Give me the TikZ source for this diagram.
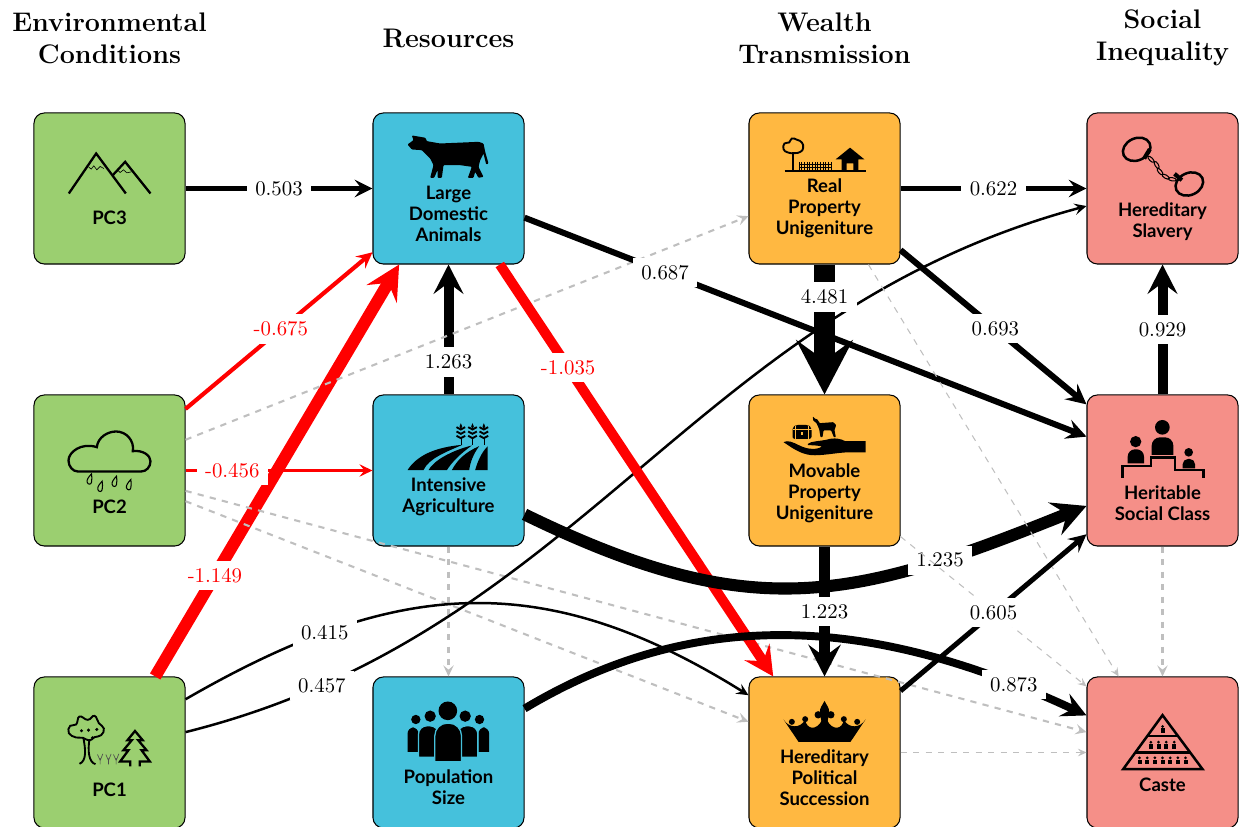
\documentclass[tikz,border=0pt]{standalone}
\usepackage{fontspec}
\setsansfont{Lato}
\usetikzlibrary{arrows.meta}

\definecolor{envgreen}{RGB}{155,207,112}
\definecolor{resblue}{RGB}{69,193,220}
\definecolor{wealthorange}{RGB}{255,184,65}
\definecolor{ineqpink}{RGB}{245,143,136}

\tikzset{
  basebox/.style={draw=black,line width=0.5pt,rounded corners=5pt,minimum size=72.5pt,inner sep=0pt},
  envbox/.style={basebox,fill=envgreen},
  resbox/.style={basebox,fill=resblue},
  wealthbox/.style={basebox,fill=wealthorange},
  ineqbox/.style={basebox,fill=ineqpink},
  boxtext/.style={font=\sffamily\bfseries\fontsize{8.9}{10.2}\selectfont,align=center,inner sep=0pt},
  head/.style={font=\fontsize{12.9}{15.4}\selectfont\bfseries,align=center,inner sep=0pt,text depth=0pt},
  coef/.style={fill=white,text=black,inner xsep=4pt,inner ysep=3.6pt,font=\fontsize{10}{12}\selectfont},
  redcoef/.style={coef,text=red},
  faint/.style={draw=gray!50,line width=0.5pt,dashed},
  medfaint/.style={draw=gray!50,line width=1pt,dashed},
  every pic/.style={scale=1/3,yscale=-1},
  mountains/.pic={
    \draw[line width=1.1pt] (-122,15) -- (-40,-105) -- (49,15);
    \draw[line width=1.1pt] (10,-40) -- (47,-80) -- (123,15);
    \draw[line width=0.3pt] (-63,-65) -- (-55,-58) -- (-47,-68) -- (-38,-56) -- (-28,-66) -- (-17,-60);
    \draw[line width=0.3pt] (24,-56) -- (32,-48) -- (42,-56) -- (52,-47) -- (66,-50);
  },
  raincloud/.pic={
    \draw[line width=1.1pt] (-95,3) .. controls (-110,3) and (-123,-12) .. (-123,-30)
      .. controls (-123,-55) and (-85,-85) .. (-38,-70)
      .. controls (-35,-100) and (-5,-117) .. (20,-117)
      .. controls (50,-117) and (75,-90) .. (70,-58)
      .. controls (100,-62) and (123,-45) .. (123,-28)
      .. controls (123,-10) and (110,3) .. (95,3) -- cycle;
    \foreach \dropx/\dropy in {-60/27,-28/49,15/34,58/44}
      \draw[line width=0.5pt,shift={(\dropx,\dropy)}] (6,-17) .. controls (-2,-8) and (-9,0) .. (-7,8)
        .. controls (-5,16) and (5,16) .. (6,8) .. controls (8,0) and (7,-8) .. (6,-17) -- cycle;
  },
  trees/.pic={
    \draw[line width=0.9pt] plot[smooth cycle,tension=0.8] coordinates {(-100,-45) (-122,-58) (-118,-80) (-100,-84) (-90,-108)
      (-65,-98) (-45,-110) (-32,-88) (-17,-72) (-25,-52) (-45,-46) (-60,-36) (-80,-44)};
    \foreach \dotx/\doty in {-84/-65,-63/-67,-38/-69,-51/-44}
      \fill (\dotx,\doty) circle (5);
    \draw[line width=0.9pt] (-78,-42) .. controls (-72,-10) and (-68,25) .. (-90,34);
    \draw[line width=0.9pt] (-60,-40) .. controls (-66,-5) and (-62,30) .. (-42,35);
    \foreach \grassx in {-28,-3,20}
      \draw[line width=0.3pt,black!70] (\grassx,36) -- (\grassx,18) (\grassx,24) -- (\grassx-8,6) (\grassx,24) -- (\grassx+8,4);
    \draw[line width=1.1pt] (62,42) -- (62,27) -- (32,27) -- (57,-7) -- (42,-7) -- (67,-37) -- (54,-37) -- (76.5,-64.5)
      -- (99.5,-37) -- (86,-37) -- (111,-7) -- (96,-7) -- (121,27) -- (91,27) -- (91,42);
  },
  cow/.pic={
    \fill[rounded corners=0.4pt] (-123,-132) -- (-105,-145) -- (-110,-159) -- (-85,-155) -- (-69,-152) -- (-65,-142) -- (-25,-135)
      -- (45,-138) -- (90,-140) -- (105,-135) -- (110,-110) -- (120,-75) -- (113,-72) -- (105,-105) -- (95,-85) -- (90,-65)
      -- (105,-35) -- (90,-32) -- (80,-50) -- (75,-32) -- (58,-32) -- (70,-65) -- (35,-70) -- (-15,-70) -- (-20,-32) -- (-33,-32)
      -- (-33,-55) -- (-43,-32) -- (-55,-32) -- (-45,-70) -- (-55,-90) -- (-80,-115) -- (-110,-117) -- cycle;
  },
  field/.pic={
    \fill (-123,-1) .. controls (-95,-45) and (-40,-70) .. (42,-77) .. controls (-10,-55) and (-60,-35) .. (-75,-1) -- cycle;
    \fill (-60,-1) .. controls (-45,-30) and (10,-60) .. (70,-75) .. controls (35,-50) and (10,-25) .. (-5,-1) -- cycle;
    \fill (10,-1) .. controls (25,-30) and (50,-55) .. (92,-73) .. controls (75,-50) and (65,-25) .. (62,-1) -- cycle;
    \fill (80,-1) .. controls (88,-30) and (100,-55) .. (117,-72) -- (117,-1) -- cycle;
    \foreach \earx in {37,72,106}{
      \draw[line width=0.25pt] (\earx,-77) -- (\earx,-100);
      \foreach \eary in {-97,-110,-123}
        \draw[line width=0.9pt] (\earx-13,\eary-7) -- (\earx,\eary) -- (\earx+13,\eary-7);
      \fill (\earx,-142) -- (\earx+4,-132) -- (\earx,-124) -- (\earx-4,-132) -- cycle;
    }
  },
  crowd/.pic={
    \fill (-98,-99) circle (14) (93,-99) circle (14);
    \fill (-123,-2) [rounded corners=3pt] -- (-123,-75) -- (-90,-75) [sharp corners] -- (-90,-2) -- cycle;
    \fill (122,-2) [rounded corners=3pt] -- (122,-75) -- (90,-75) [sharp corners] -- (90,-2) -- cycle;
    \fill (-55,-109) circle (17) (50,-109) circle (17);
    \filldraw[draw=resblue,line width=0.6pt] (-90,14) [rounded corners=4pt] -- (-90,-80) -- (-30,-80) [sharp corners] -- (-30,14) -- cycle;
    \filldraw[draw=resblue,line width=0.6pt] (88,14) [rounded corners=4pt] -- (88,-80) -- (28,-80) [sharp corners] -- (28,14) -- cycle;
    \fill (-2,-125) circle (28);
    \filldraw[draw=resblue,line width=0.6pt] (-41,28) [rounded corners=6pt] -- (-41,-88) -- (39,-88) [sharp corners] -- (39,28) -- cycle;
  },
  realestate/.pic={
    \draw[line width=0.9pt] plot[smooth cycle,tension=0.8] coordinates {(-110,-108) (-123,-118) (-120,-135) (-106,-138) (-98,-150)
      (-82,-146) (-68,-138) (-64,-122) (-72,-110) (-90,-106)};
    \draw[line width=1pt] (-93.5,-105) -- (-93.5,-52);
    \draw[line width=1.2pt] (-120,-52) -- (123,-52);
    \foreach \fencex in {-76,-68,...,20}
      \draw[line width=0.35pt] (\fencex,-80) -- (\fencex,-54);
    \draw[line width=0.35pt] (-76,-72) -- (20,-72) (-76,-63) -- (20,-63);
    \fill (76.5,-122.5) -- (119.5,-87.5) -- (101.5,-87.5) -- (101.5,-52) -- (86.5,-52) -- (86.5,-75) -- (66.5,-75) -- (66.5,-52)
      -- (51.5,-52) -- (51.5,-87.5) -- (33.5,-87.5) -- cycle;
  },
  handgift/.pic={
    \fill (-123,-85) .. controls (-100,-70) and (-75,-50) .. (-40,-46) .. controls (-10,-44) and (30,-52) .. (61,-54) -- (123,-54)
      -- (123,-88) -- (62,-88) .. controls (50,-95) and (30,-100) .. (5,-92) .. controls (-15,-88) and (-40,-88) .. (-50,-80)
      -- (-50,-76) .. controls (-30,-76) and (-15,-74) .. (-8,-72) .. controls (-20,-62) and (-50,-62) .. (-75,-75)
      .. controls (-95,-85) and (-110,-92) .. (-123,-85) -- cycle;
    \fill[rounded corners=1pt] (-96,-95) -- (-96,-130) -- (-85,-137) -- (-50,-137) -- (-39,-130) -- (-39,-95) -- cycle;
    \draw[wealthorange,line width=0.35pt] (-96,-124) -- (-39,-124) (-86,-132) -- (-86,-95) (-49,-132) -- (-49,-95);
    \fill[wealthorange] (-70,-116) rectangle (-65,-106);
    \fill[rounded corners=0.3pt] (-35,-162) -- (-28,-155) -- (-22,-154) -- (-14,-142) -- (26,-145) -- (35,-136) -- (30,-121) -- (34,-100)
      -- (28,-100) -- (20,-120) -- (-3,-120) -- (-6,-100) -- (-12,-100) -- (-16,-124) -- (-24,-142) -- (-34,-150) -- cycle;
  },
  shackles/.pic={
    \draw[line width=1.2pt,rotate around={-25:(-77.5,-117.5)}] (-77.5,-117.5) ellipse (43 and 33);
    \draw[line width=1.2pt,rotate around={-25:(80.5,-13.5)}] (80.5,-13.5) ellipse (43 and 33);
    \draw[line width=2pt] (-55,-90) -- (-38,-118);
    \draw[line width=2pt] (36,-44) -- (58,-25);
    \foreach \linkx/\linky/\linkr in {-34.5/-87.5/45,-17.5/-70.5/60,-7.5/-50.5/50,9.5/-35.5/30,29.5/-27.5/10}
      \draw[line width=0.5pt,rotate around={\linkr:(\linkx,\linky)}] (\linkx,\linky) ellipse (12 and 5);
  },
  podium/.pic={
    \fill (-0.5,-129.5) circle (22);
    \fill (-32.5,-46.5) [rounded corners=4pt] -- (-32.5,-99.5) -- (32.5,-99.5) [sharp corners] -- (32.5,-46.5) -- cycle;
    \fill (-80.5,-86.5) circle (17);
    \fill (-104.5,-21.5) [rounded corners=3.5pt] -- (-104.5,-63.5) -- (-55.5,-63.5) [sharp corners] -- (-55.5,-21.5) -- cycle;
    \fill (78.5,-54.5) circle (13);
    \fill (60.5,-6.5) [rounded corners=2.5pt] -- (60.5,-34.5) -- (97.5,-34.5) [sharp corners] -- (97.5,-6.5) -- cycle;
    \draw[line width=1.2pt] (-119.5,21.5) -- (-119.5,-13.5) -- (-34.5,-13.5) -- (-34.5,-38.5) -- (37.5,-38.5) -- (37.5,-1.5)
      -- (122.5,-1.5) -- (122.5,21.5);
  },
  crown/.pic={
    \fill (-78,-32) -- (-123,-99) .. controls (-108,-74) and (-74,-70) .. (-58,-98) .. controls (-54,-70) and (-24,-62) .. (-6,-100)
      -- (6,-100) .. controls (24,-62) and (54,-70) .. (58,-98) .. controls (74,-70) and (108,-74) .. (123,-99) -- (78,-32) -- cycle;
    \fill (-98,-92) circle (9) (98,-92) circle (9) (-58,-100) circle (9) (58,-100) circle (9);
    \fill (0,-155) .. controls (6,-142) and (14,-135) .. (14,-122) -- (8,-85) -- (-8,-85) -- (-14,-122) .. controls (-14,-135) and (-6,-142) .. (0,-155) -- cycle;
    \fill (-19,-113) circle (11) (19,-113) circle (11);
  },
  pyramid/.pic={
    \draw[line width=1.2pt,line join=miter] (0,-112) -- (120,50) -- (-118,50) -- cycle;
    \draw[line width=1.2pt] (-45,-49.5) -- (45,-49.5) (-81,-0.5) -- (82,-0.5);
    \foreach \persx/\persy in {0/-69,-35/-22,-12/-22,11/-22,35/-22,-69/25,-46/25,-23/25,0/25,23/25,46/25,69/25}{
      \fill (\persx,\persy-9) circle (4.5);
      \fill (\persx-6,\persy-3) rectangle (\persx+6,\persy+11);
    }
  },
}

\begin{document}
\begin{tikzpicture}[x=0.48pt,y=0.48pt,>={Stealth[length=3pt 2.3 0,width=2.5pt 2.45 0,inset=1.2pt 0.85 0]},node distance=135.36pt]

\useasboundingbox (0,0) rectangle (1241,827);

% boxes
\node[envbox]    (PCthree) at (109.5,638.5)                          {};
\node[envbox]    (PCtwo)   [below of=PCthree]                       {};
\node[envbox]    (PCone)   [below of=PCtwo]                         {};
\node[resbox]    (LDA)     [right of=PCthree,node distance=162.72pt] {};
\node[resbox]    (IA)      [right of=PCtwo,node distance=162.72pt]   {};
\node[resbox]    (PS)      [right of=PCone,node distance=162.72pt]   {};
\node[wealthbox] (RPU)     [right of=LDA,node distance=180.48pt]     {};
\node[wealthbox] (MPU)     [right of=IA,node distance=180.48pt]      {};
\node[wealthbox] (HPS)     [right of=PS,node distance=180.48pt]      {};
\node[ineqbox]   (HSL)     [right of=RPU,node distance=162.24pt]     {};
\node[ineqbox]   (HSC)     [right of=MPU,node distance=162.24pt]     {};
\node[ineqbox]   (CST)     [right of=HPS,node distance=162.24pt]     {};

% coefficients
\path[->]
      (PCone.59)   edge [red,line width=5.8pt]   node [redcoef,pos=0.245] {-1.149} (LDA.237.8)
      (PCthree)    edge [line width=2.4pt]       node [coef] {0.503} (LDA)
      (PCtwo.39.6) edge [red,line width=2pt]     node [redcoef,pos=0.51] {-0.675} (LDA.220)
      (IA)         edge [line width=4.8pt]       node [coef,pos=0.25] {1.263} (LDA)
      (PCtwo)      edge [red,line width=1.4pt]   node [redcoef,pos=0.25] {-0.456} (IA)
      (PCtwo.22)   edge [medfaint]               (RPU.200)
      (PCtwo.345.5) edge [medfaint]              (CST.165)
      (PCtwo.338.7) edge [medfaint]              (HPS.158)
      (IA)         edge [medfaint]               (PS)
      (PCone.35.3) edge [out=30,in=148,looseness=1.1,line width=1.2pt] node [coef,pos=0.235] {0.415} (HPS.143.7)
      (PCone.15)   edge [out=14,in=195,line width=1.2pt] node [coef,pos=0.125] {0.457} (HSL.193.8)
      (LDA.339.3)  edge [line width=2.9pt]       node [coef,pos=0.25] {0.687} (HSC.156.7)
      (LDA.304)    edge [red,line width=4.8pt]   node [redcoef,pos=0.25] {-1.035} (HPS.124.3)
      (IA.330)     edge [out=-26,in=202,looseness=1.15,line width=5.8pt] node [coef,pos=0.765] {1.235} (HSC.205.8)
      (PS.30)      edge [out=31,in=155,looseness=0.98,line width=3.8pt]  node [coef,pos=0.875] {0.873} (CST.154)
      (RPU)        edge [line width=10pt]        node [coef,pos=0.25] {4.481} (MPU)
      (MPU)        edge [line width=5.3pt]       node [coef] {1.223} (HPS)
      (RPU)        edge [line width=2.4pt]       node [coef] {0.622} (HSL)
      (RPU.321)    edge [line width=2.9pt]       node [coef,pos=0.51] {0.693} (HSC.139)
      (HSC)        edge [line width=4.8pt]       node [coef] {0.929} (HSL)
      (RPU.300.5)  edge [faint]                  (CST.120.5)
      (MPU.319.5)  edge [faint]                  (CST.139)
      (HPS.39.6)   edge [line width=2.4pt]       node [coef] {0.605} (HSC.220.5)
      (HPS)        edge [faint]                  (CST)
      (HSC)        edge [medfaint]               (CST);

% box texts
\node[boxtext] (PCthreeText) [below of=PCthree,node distance=14pt]   {PC3};
\node[boxtext] (PCtwoText)   [below of=PCtwo,node distance=17.5pt]   {PC2};
\node[boxtext] (PConeText)   [below of=PCone,node distance=18pt]     {PC1};
\node[boxtext] (LDAText)     [below of=LDA,node distance=12.2pt]     {Large\\Domestic\\Animals};
\node[boxtext] (IAText)      [below of=IA,node distance=12.8pt]      {Intensive\\Agriculture};
\node[boxtext] (PSText)      [below of=PS,node distance=16.6pt]      {Population\\Size};
\node[boxtext] (RPUText)     [below of=RPU,node distance=9.4pt]      {Real\\Property\\Unigeniture};
\node[boxtext] (MPUText)     [below of=MPU,node distance=11pt]       {Movable\\Property\\Unigeniture};
\node[boxtext] (HPSText)     [below of=HPS,node distance=12.2pt]     {Hereditary\\Political\\Succession};
\node[boxtext] (HSLText)     [below of=HSL,node distance=16pt]       {Hereditary\\Slavery};
\node[boxtext] (HSCText)     [below of=HSC,node distance=15.8pt]     {Heritable\\Social Class};
\node[boxtext] (CSTText)     [below of=CST,node distance=15.6pt]     {Caste};

% icons
\pic at (PCthree.center) {mountains};
\pic at (PCtwo.center)   {raincloud};
\pic at (PCone.center)   {trees};
\pic at (LDA.center)     {cow};
\pic at (IA.center)      {field};
\pic at (PS.center)      {crowd};
\pic at (RPU.center)     {realestate};
\pic at (MPU.center)     {handgift};
\pic at (HPS.center)     {crown};
\pic at (HSL.center)     {shackles};
\pic at (HSC.center)     {podium};
\pic at (CST.center)     {pyramid};

% column titles
\node[head] (EnvHead)    [above of=PCthree,node distance=72.24pt] {Environmental\\Conditions};
\node[head] (ResHead)    [above of=LDA,node distance=72.24pt]     {Resources};
\node[head] (WealthHead) [above of=RPU,node distance=72.24pt]     {Wealth\\Transmission};
\node[head] (IneqHead)   [above of=HSL,node distance=73.7pt]      {Social\\Inequality};

\end{tikzpicture}
\end{document}
